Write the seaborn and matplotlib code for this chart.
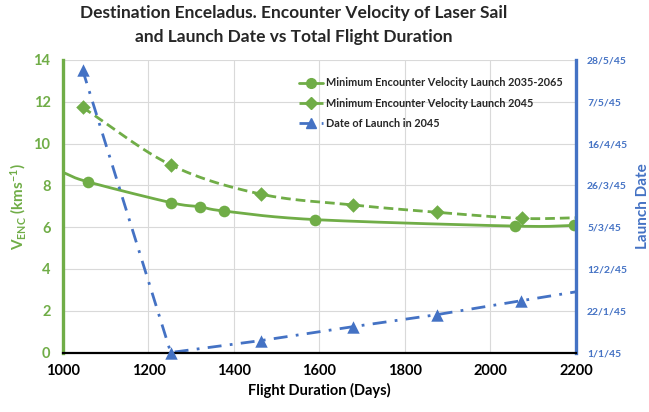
import numpy as np
import pandas as pd
import matplotlib
matplotlib.use("Agg")
import matplotlib.pyplot as plt
import seaborn as sns
from matplotlib.lines import Line2D

# ---- data ----
solid_x = [1000, 1058, 1253, 1320, 1377, 1590, 2057, 2195]
solid_y = [8.62, 8.17, 7.17, 6.98, 6.77, 6.36, 6.05, 6.08]
solid_marked = [1, 2, 3, 4, 5, 6, 7]

dash_x = [1046, 1253, 1463, 1679, 1876, 2073, 2200]
dash_y = [11.73, 8.97, 7.58, 7.06, 6.71, 6.42, 6.45]
dash_marked = [0, 1, 2, 3, 4, 5]

launch_x = [1046, 1252, 1463, 1679, 1874, 2071, 2200]
launch_day = [142, 0, 6, 13, 19, 26, 30.5]   # days after 1/1/45
launch_marked = [0, 1, 2, 3, 4, 5]

date_ticks = [0, 21, 42, 63, 84, 105, 126, 147]
date_labels = ["1/1/45", "22/1/45", "12/2/45", "5/3/45", "26/3/45", "16/4/45", "7/5/45", "28/5/45"]

labels = ["Minimum Encounter Velocity Launch 2035-2065",
          "Minimum Encounter Velocity Launch 2045",
          "Date of Launch in 2045"]

GREEN = "#70AD47"
BLUE = "#4472C4"

sns.set_theme(style="white")
plt.rcParams['font.family'] = ['Lato', 'DejaVu Sans']
plt.rcParams['font.weight'] = 'bold'
plt.rcParams['mathtext.fontset'] = 'custom'
plt.rcParams['mathtext.rm'] = 'Lato:bold'
plt.rcParams['mathtext.bf'] = 'Lato:bold'
plt.rcParams['mathtext.it'] = 'Lato:bold'
plt.rcParams['axes.unicode_minus'] = False


def smooth(xs, ys, n=24):
    """Catmull-Rom curve through the given points (drawing only)."""
    P = np.column_stack([xs, ys]).astype(float)
    P = np.vstack([P[0] - (P[1] - P[0]), P, P[-1] + (P[-1] - P[-2])])
    out = []
    t = np.linspace(0, 1, n, endpoint=False)[:, None]
    for i in range(1, len(P) - 2):
        p0, p1, p2, p3 = P[i - 1], P[i], P[i + 1], P[i + 2]
        seg = 0.5 * ((2 * p1) + (-p0 + p2) * t + (2 * p0 - 5 * p1 + 4 * p2 - p3) * t ** 2
                     + (-p0 + 3 * p1 - 3 * p2 + p3) * t ** 3)
        out.append(seg)
    out.append(P[-2][None, :])
    out = np.vstack(out)
    return out[:, 0], out[:, 1]


fig = plt.figure(figsize=(6.49, 4.12), dpi=100)
ax = fig.add_axes([0.097, 0.1444, 0.7905, 0.71])
ax2 = ax.twinx()

# solid green smooth
sx, sy = smooth(solid_x, solid_y)
sns.lineplot(x=sx, y=sy, ax=ax, color=GREEN, lw=2.0, sort=False, estimator=None)
sns.scatterplot(x=[solid_x[i] for i in solid_marked], y=[solid_y[i] for i in solid_marked],
                ax=ax, color=GREEN, s=70, marker="o", edgecolor=GREEN, linewidth=0, zorder=5)

# dashed green smooth
dx, dy = smooth(dash_x, dash_y)
sns.lineplot(x=dx, y=dy, ax=ax, color=GREEN, lw=2.0, sort=False, estimator=None,
             linestyle=(0, (3.5, 1.8)))
sns.scatterplot(x=[dash_x[i] for i in dash_marked], y=[dash_y[i] for i in dash_marked],
                ax=ax, color=GREEN, s=55, marker="D", edgecolor=GREEN, linewidth=0, zorder=5)

# blue dash-dot (right axis)
sns.lineplot(x=launch_x, y=launch_day, ax=ax2, color=BLUE, lw=2.0, sort=False, estimator=None,
             linestyle=(0, (5, 3, 1, 3)))
sns.scatterplot(x=[launch_x[i] for i in launch_marked], y=[launch_day[i] for i in launch_marked],
                ax=ax2, color=BLUE, s=80, marker="^", edgecolor=BLUE, linewidth=0, zorder=5,
                clip_on=False)

ax.set_xlim(1000, 2200)
ax.set_ylim(0, 14)
ax2.set_ylim(0, 147)
ax.set_xticks(range(1000, 2201, 200))
ax.set_yticks(range(0, 15, 2))
ax2.set_yticks(date_ticks)
ax2.set_yticklabels(date_labels)

ax.grid(True, color="#D9D9D9", lw=0.8)
ax2.grid(False)
ax.set_axisbelow(True)

ax.tick_params(axis='x', length=0, labelsize=10.5, labelcolor="black", pad=8)
ax.tick_params(axis='y', length=0, labelsize=10.5, labelcolor=GREEN, pad=9)
ax2.tick_params(axis='y', length=0, labelsize=7.5, labelcolor=BLUE, pad=8)
for lab in ax.get_xticklabels() + ax.get_yticklabels() + ax2.get_yticklabels():
    lab.set_fontweight('bold')

for a in (ax, ax2):
    for s in ('top', 'left', 'right', 'bottom'):
        a.spines[s].set_visible(False)
ax2.spines['left'].set_visible(True)
ax2.spines['left'].set_color(GREEN)
ax2.spines['left'].set_linewidth(2.4)
ax2.spines['right'].set_visible(True)
ax2.spines['right'].set_color(BLUE)
ax2.spines['right'].set_linewidth(2.4)
ax2.spines['bottom'].set_visible(True)
ax2.spines['bottom'].set_color("black")
ax2.spines['bottom'].set_linewidth(1.6)

ax.set_xlabel("Flight Duration (Days)", fontsize=10.5, fontweight='bold', color="black", labelpad=4)
ax.set_ylabel(r"V$_{\mathrm{ENC}}$ (kms$^{\mathrm{-1}}$)", fontsize=11, fontweight='bold', color=GREEN, labelpad=4)
ax2.set_ylabel("Launch Date", fontsize=11, fontweight='bold', color=BLUE, labelpad=6)

fig.text(0.452, 0.988, "Destination Enceladus. Encounter Velocity of Laser Sail\nand Launch Date vs Total Flight Duration",
         ha='center', va='top', fontsize=12.5, fontweight='bold', linespacing=1.6)

handles = [
    Line2D([], [], color=GREEN, lw=2.0, marker='o', markersize=7),
    Line2D([], [], color=GREEN, lw=2.0, ls=(0, (3.5, 1.8)), marker='D', markersize=6),
    Line2D([], [], color=BLUE, lw=2.0, ls=(0, (5, 3, 1, 3)), marker='^', markersize=7),
]
leg = ax2.legend(handles, labels, loc='upper left', bbox_to_anchor=(0.452, 0.955), frameon=False,
                 prop={'size': 7.8, 'weight': 'bold'}, handlelength=2.2, handletextpad=0.3,
                 labelspacing=0.85, borderaxespad=0)

fig.savefig("out.png", dpi=100)
